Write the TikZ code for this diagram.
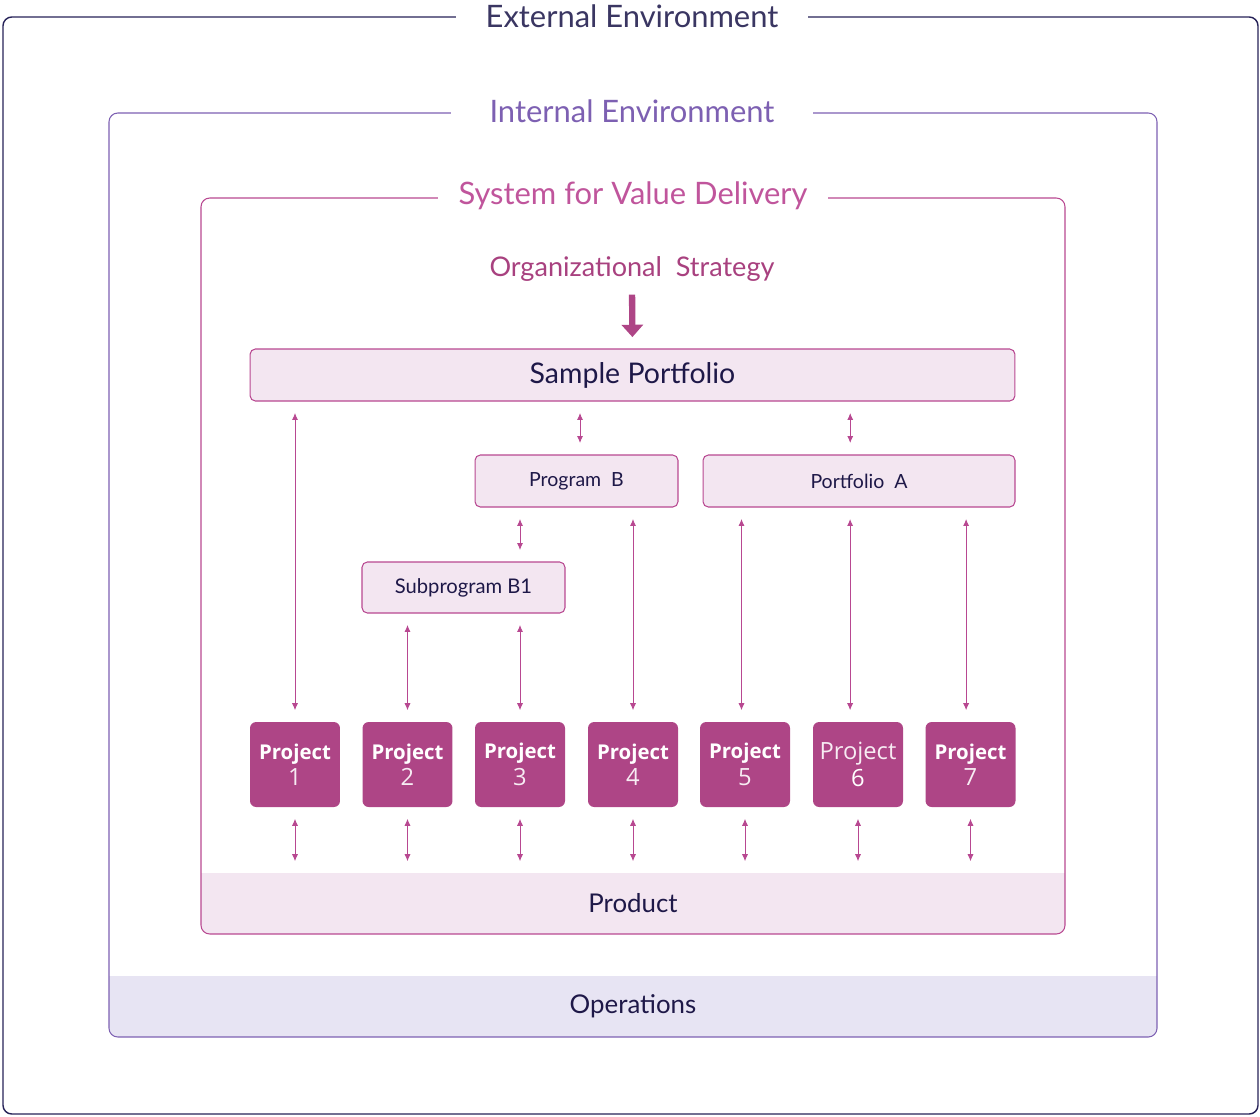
\documentclass[tikz,border=0pt]{standalone}
\usepackage{fontspec}
\setmainfont{Lato}
\newfontfamily\projfont{Open Sans}
\usetikzlibrary{arrows.meta, positioning, calc}
\definecolor{NavyInk}{RGB}{30,24,72}
\definecolor{ExtLine}{RGB}{38,34,88}
\definecolor{ExtText}{RGB}{58,54,98}
\definecolor{IntPurple}{RGB}{125,96,178}
\definecolor{SysMagenta}{RGB}{184,72,145}
\definecolor{SysText}{RGB}{192,85,156}
\definecolor{PinkFill}{RGB}{243,230,241}
\definecolor{LavFill}{RGB}{231,228,243}
\definecolor{ProjFill}{RGB}{174,69,134}
\definecolor{StratText}{RGB}{168,65,127}

\begin{document}
\begin{tikzpicture}[
  x=0.02cm, y=-0.02cm,
  frametitle/.style={fill=white, inner ysep=1pt, font=\fontsize{17.6}{20}\selectfont},
  band/.style={inner sep=0pt, text=NavyInk, font=\fontsize{14.7}{17}\selectfont},
  unit/.style={draw=SysMagenta, fill=PinkFill, rounded corners=3pt, line width=0.6pt, text=NavyInk, minimum height=1.04cm, inner sep=0pt, font=\fontsize{11.1}{13}\selectfont},
  proj/.style={fill=ProjFill, rounded corners=3.5pt, minimum width=1.8cm, minimum height=1.7cm, inner sep=0pt, text=white, align=center, font=\projfont\fontsize{13.5}{16}\selectfont},
  link/.style={{Latex[length=4pt,width=3.5pt]}-{Latex[length=4pt,width=3.5pt]}, SysMagenta, line width=0.55pt, shorten >=6.5pt, shorten <=6.5pt},
  bigarr/.style={-{Triangle[length=7pt,width=12pt]}, ProjFill, line width=3.6pt}
]
  \useasboundingbox (0,0) rectangle (1260,1116);

  % External environment
  \draw[ExtLine, line width=0.8pt, rounded corners=5pt] (3,17) rectangle (1258,1114);
  \node[frametitle, text=ExtText, inner xsep=17pt] (exttitle) at (632,16) {External Environment};

  % Internal environment with operations band
  \begin{scope}
    \clip[rounded corners=5pt] (109,113) rectangle (1157,1037);
    \node[band, fill=LavFill, minimum width=20.96cm, minimum height=1.22cm] (opsband) at (633,1006.5) {Operations};
  \end{scope}
  \draw[IntPurple, line width=0.6pt, rounded corners=5pt] (109,113) rectangle (1157,1037);
  \node[frametitle, text=IntPurple, inner xsep=22pt] (inttitle) at (632,111) {Internal Environment};

  % System for value delivery with product band
  \begin{scope}
    \clip[rounded corners=5pt] (201,198) rectangle (1065,934);
    \node[band, fill=PinkFill, minimum width=17.28cm, minimum height=1.22cm] (prodband) at (633,903.5) {Product};
  \end{scope}
  \draw[SysMagenta, line width=0.6pt, rounded corners=5pt] (201,198) rectangle (1065,934);
  \node[frametitle, text=SysText, inner xsep=11.5pt] (systitle) at (633,196) {System for Value Delivery};

  % Strategy and portfolio structure
  \node[text=StratText, font=\fontsize{15.4}{18}\selectfont] (strat) at (632,269) {Organizational\ \ Strategy};
  \node[unit, minimum width=15.3cm, font=\fontsize{16.2}{19}\selectfont] (sp) at (632.5,375) {Sample\ Portfolio};
  \node[unit, minimum width=4.06cm] (progb) at (576.5,481) {Program\ \ B};
  \node[unit, minimum width=6.24cm] (portfa) at (859,481) {Portfolio\ \ A};
  \node[unit, minimum width=4.06cm, minimum height=1.02cm, font=\fontsize{11.5}{13}\selectfont] (subb1) at (463.5,587.5) {Subprogram\ B1};

  \draw[bigarr, shorten <=4pt, shorten >=6.5pt] (strat.south) -- (sp.north);

  % Projects
  \foreach \i/\x in {1/295, 2/407.5, 3/520, 4/633, 5/745, 7/970.5}
    \node[proj] (p\i) at (\x,764.5) {{\fontsize{11.6}{14}\selectfont\bfseries Project}\\[-1pt]{\color{white!90!ProjFill}\i}};
  \node[proj] (p6) at (858,764.5) {\color{white!90!ProjFill}Project\\[-1pt]6};

  % Links
  \draw[link] (p1.north) -- (p1.north |- sp.south);
  \draw[link] ([xshift=2pt]progb.north) -- ([xshift=2pt]progb.north |- sp.south);
  \draw[link] ([xshift=-5pt]portfa.north) -- ([xshift=-5pt]portfa.north |- sp.south);
  \draw[link] (p3.north |- subb1.north) -- (p3.north |- progb.south);
  \draw[link] (p2.north) -- (p2.north |- subb1.south);
  \draw[link] (p3.north) -- (p3.north |- subb1.south);
  \draw[link] (p4.north) -- (p4.north |- progb.south);
  \draw[link] ([xshift=-2pt]p5.north) -- ([xshift=-2pt]p5.north |- portfa.south);
  \draw[link] ([xshift=-4.5pt]p6.north) -- ([xshift=-4.5pt]p6.north |- portfa.south);
  \draw[link] ([xshift=-2.5pt]p7.north) -- ([xshift=-2.5pt]p7.north |- portfa.south);
  \foreach \i in {1,...,7}
    \draw[link] (p\i.south) -- (p\i.south |- prodband.north);
\end{tikzpicture}
\end{document}
